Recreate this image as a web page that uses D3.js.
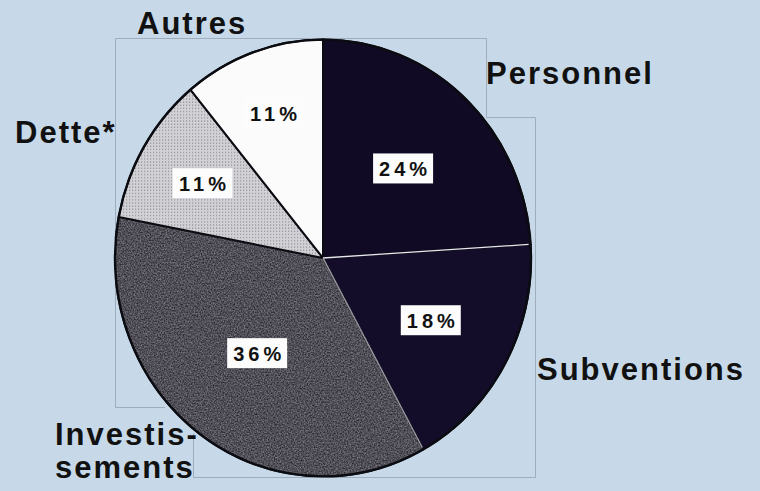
<!DOCTYPE html>
<html>
<head>
<meta charset="utf-8">
<script src="https://cdn.jsdelivr.net/npm/d3@7"></script>
<style>
  html, body { margin: 0; padding: 0; background: #c7d9e8; }
  svg { display: block; }
</style>
</head>
<body>
<svg id="chart" width="760" height="491"></svg>
<script>
// ---- data ----
const categories = ["Personnel", "Subventions", "Investissements", "Dette*", "Autres"];
const values = [24, 18, 36, 11, 11];
const valueLabels = ["24%", "18%", "36%", "11%", "11%"];
const categoryLabelLines = [["Personnel"], ["Subventions"], ["Investis-", "sements"], ["Dette*"], ["Autres"]];

// ---- layout / style ----
const W = 760, H = 491;
const cx = 323, cy = 258, R = 208, squash = 1.05;
const fills = ["#110a24", "#140d29", "#3d3b46", "url(#dots)", "#fbfbfb"];
const labelRadius = [117, 123, 112, 140, 146];
const catLabelPos = [[486, 84], [537, 380], [55, 445], [15, 143], [137, 34]];

const svg = d3.select("#chart");
const defs = svg.append("defs");

// grain texture: grey noise overlaid on the slice colour
function grainFilter(id, freq, alpha) {
  const f = defs.append("filter").attr("id", id).attr("x", 0).attr("y", 0).attr("width", 1).attr("height", 1)
    .attr("color-interpolation-filters", "sRGB");
  f.append("feTurbulence").attr("type", "fractalNoise").attr("baseFrequency", freq).attr("numOctaves", 2).attr("seed", 7).attr("result", "n");
  f.append("feColorMatrix").attr("in", "n").attr("type", "matrix")
    .attr("values", `1.8 0 0 0 -0.4  1.8 0 0 0 -0.4  1.8 0 0 0 -0.4  0 0 0 0 ${alpha}`).attr("result", "g");
  f.append("feComposite").attr("in", "g").attr("in2", "SourceGraphic").attr("operator", "in").attr("result", "gc");
  const m = f.append("feMerge");
  m.append("feMergeNode").attr("in", "SourceGraphic");
  m.append("feMergeNode").attr("in", "gc");
}
grainFilter("grainGrey", 0.7, 0.3);

const dots = defs.append("pattern").attr("id", "dots").attr("patternUnits", "userSpaceOnUse").attr("width", 3).attr("height", 3);
dots.append("rect").attr("width", 3).attr("height", 3).attr("fill", "#d2d2d6");
dots.append("rect").attr("x", 1).attr("y", 1).attr("width", 1.2).attr("height", 1.2).attr("fill", "#94949c");

// background
svg.append("rect").attr("width", W).attr("height", H).attr("fill", "#c7d9e8");

// faint scan frame lines
const frame = svg.append("g").attr("fill", "none").attr("stroke", "#95a2b2").attr("stroke-width", 1).attr("opacity", 0.8);
frame.append("path").attr("d", "M115.5,407.5 V38.5 H486.5 V117.5 H535.5 V477.5 H193.5 V433.5");
frame.append("path").attr("d", "M115.5,407.5 H165");

// pie
const pie = d3.pie().sort(null).value(d => d);
const arcs = pie(values);
const arc = d3.arc().innerRadius(0).outerRadius(R);

const g = svg.append("g").attr("transform", `translate(${cx},${cy}) scale(1,${squash})`);

g.selectAll("path.slice")
  .data(arcs)
  .join("path")
  .attr("class", "slice")
  .attr("d", arc)
  .attr("fill", (d, i) => fills[i])
  .attr("filter", (d, i) => i === 2 ? "url(#grainGrey)" : null)
  .attr("stroke", "#0b0b12")
  .attr("stroke-width", 2)
  .attr("vector-effect", "non-scaling-stroke")
  .attr("stroke-linejoin", "round");

// light boundary lines between the dark slices (as in the print)
const lightEdges = [1, 2];
g.selectAll("line.edge")
  .data(lightEdges)
  .join("line")
  .attr("class", "edge")
  .attr("x1", 0).attr("y1", 0)
  .attr("x2", i => Math.sin(arcs[i].startAngle) * (R - 2))
  .attr("y2", i => -Math.cos(arcs[i].startAngle) * (R - 2))
  .attr("stroke", (i) => i === 1 ? "#e6e6ee" : "#9c9aa6")
  .attr("stroke-width", 1.3)
  .attr("vector-effect", "non-scaling-stroke");

// outer ring
g.append("circle").attr("r", R).attr("fill", "none").attr("stroke", "#0b0b12").attr("stroke-width", 2.4)
  .attr("vector-effect", "non-scaling-stroke");

// value labels in white boxes
const vl = svg.append("g");
arcs.forEach((d, i) => {
  const a = (d.startAngle + d.endAngle) / 2;
  const x = cx + Math.sin(a) * labelRadius[i];
  const y = cy - Math.cos(a) * labelRadius[i] * squash;
  const grp = vl.append("g").attr("transform", `translate(${x},${y})`);
  grp.append("rect").attr("x", -30).attr("y", -15).attr("width", 60).attr("height", 30).attr("fill", "#fcfcfc");
  grp.append("text")
    .attr("x", 2).attr("y", 7.5)
    .attr("text-anchor", "middle")
    .attr("font-family", "'Liberation Sans', Arial, sans-serif")
    .attr("font-weight", "bold")
    .attr("font-size", 20)
    .attr("letter-spacing", 4)
    .attr("fill", "#111")
    .text(valueLabels[i]);
});

// category labels
const cl = svg.append("g")
  .attr("font-family", "'Liberation Sans', Arial, sans-serif")
  .attr("font-weight", "bold")
  .attr("font-size", 31)
  .attr("letter-spacing", 2)
  .attr("fill", "#111");
categoryLabelLines.forEach((lines, i) => {
  const t = cl.append("text").attr("x", catLabelPos[i][0]).attr("y", catLabelPos[i][1]);
  lines.forEach((line, j) => {
    t.append("tspan").attr("x", catLabelPos[i][0]).attr("dy", j === 0 ? 0 : 33).text(line);
  });
});
</script>
</body>
</html>
